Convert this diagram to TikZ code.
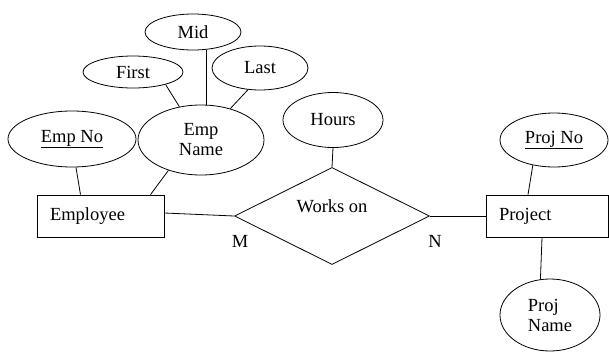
\documentclass[tikz,border=0pt]{standalone}
\usepackage{fontspec}
\setmainfont{Liberation Serif}
\usetikzlibrary{shapes.geometric}
\begin{document}
\begin{tikzpicture}[x=1pt, y=-1pt, line width=0.8pt,
	every node/.style={font=\fontsize{18.5}{20}\selectfont, inner sep=0pt},
	entity/.style={draw, rectangle, minimum height=42pt, inner xsep=13pt, align=left},
	attr/.style={draw, ellipse, align=center},
	rel/.style={draw, diamond, minimum width=195pt, minimum height=97pt}]

				\useasboundingbox (0,0) rectangle (609,351);

				\node [entity, text width=101pt] (E) at (100.5,216) {Employee};
				\node [entity, text width=96pt] (P) at (547,216) {Project};
				\node [rel] (W) at (332,216) {\raisebox{4pt}[0pt][0pt]{Works on}};

				\node [attr, minimum width=128pt, minimum height=56pt] (ENo) at (72,139) {\underline{Emp No}};
				\node [attr, minimum width=126pt, minimum height=70pt] (EName) at (201,140) {Emp\\Name};
				\node [attr, minimum width=100pt, minimum height=32pt] (F) at (133,72) {First};
				\node [attr, minimum width=96pt, minimum height=36pt] (Mi) at (193,32) {Mid};
				\node [attr, minimum width=96pt, minimum height=44pt] (L) at (260,68) {Last};
				\node [attr, minimum width=100pt, minimum height=55pt] (H) at (333,120) {Hours};
				\node [attr, minimum width=108pt, minimum height=54pt] (PNo) at (554,140) {\underline{Proj No}};
				\node [attr, minimum width=100pt, minimum height=72pt, align=left] (PName) at (550,315) {Proj\\Name};

				\node (M) at (240,241) {M};
				\node (N) at (435,241) {N};

				\draw (ENo.-82) -- ([xshift=-20pt]E.north);
				\draw (EName.-137) -- ([xshift=50pt]E.north);
				\draw (F.-21) -- (EName.123);
				\draw (Mi.-52) -- (Mi.-52 |- EName.north);
				\draw (L.-119) -- (EName.47);
				\draw ([yshift=3pt]E.east) -- (W.west);
				\draw (W.east) -- (P.west);
				\draw (H.south) -- (W.north);
				\draw (PNo.-130) -- ([xshift=-19pt]P.north);
				\draw (PName.105) -- ([xshift=-5pt]P.south);

			\end{tikzpicture}
\end{document}
